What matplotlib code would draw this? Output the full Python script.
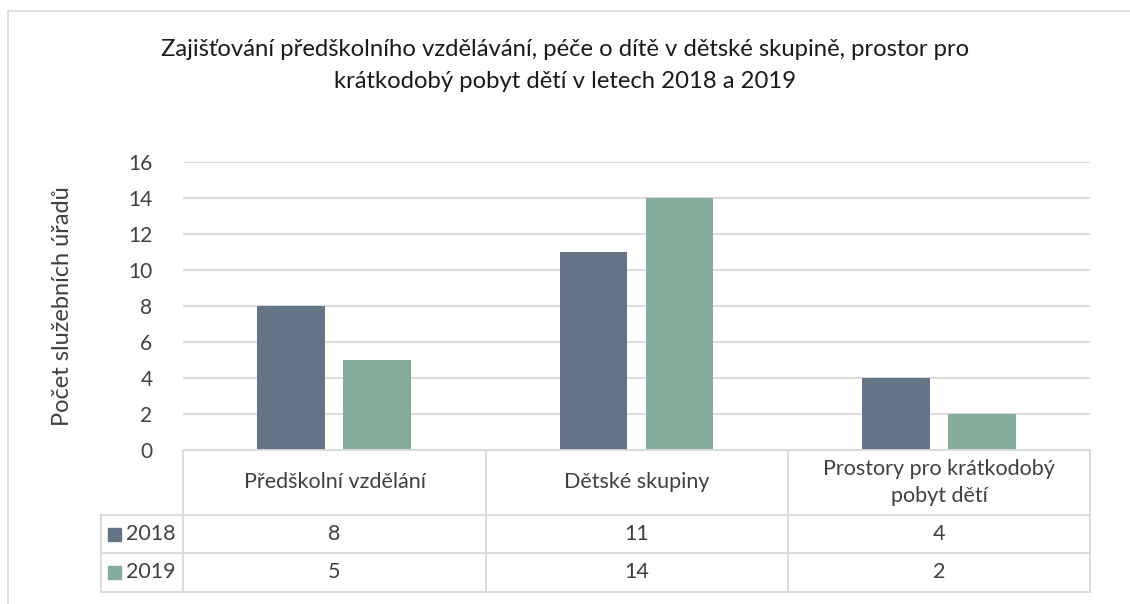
import matplotlib
matplotlib.use("Agg")
import matplotlib.pyplot as plt
from matplotlib.lines import Line2D
import numpy as np

categories = ["Předškolní vzdělání", "Dětské skupiny", "Prostory pro krátkodobý\npobyt dětí"]
series_names = ["2018", "2019"]
values_2018 = [8, 11, 4]
values_2019 = [5, 14, 2]
yticks = [0, 2, 4, 6, 8, 10, 12, 14, 16]

title = "Zajišťování předškolního vzdělávání, péče o dítě v dětské skupině, prostor pro\nkrátkodobý pobyt dětí v letech 2018 a 2019"
ylabel = "Počet služebních úřadů"

colors = ["#657587", "#84AD9C"]
grid_color = "#D9D9D9"
text_color = "#404040"

W, H = 1130, 604
plt.rcParams['font.family'] = ['Lato', 'DejaVu Sans']
fig = plt.figure(figsize=(W / 100, H / 100), dpi=100)

def fx(px):
    return px / W

def fy(py):
    return 1 - py / H

# border
fig.add_artist(Line2D([fx(8), fx(1130)], [fy(11), fy(11)], color=grid_color, lw=1.2, transform=fig.transFigure))
fig.add_artist(Line2D([fx(8), fx(8)], [fy(11), fy(604)], color=grid_color, lw=1.2, transform=fig.transFigure))

left, right, top, bottom = 183, 1090, 162, 450
ax = fig.add_axes([fx(left), fy(bottom), fx(right - left), (bottom - top) / H])

x = np.arange(len(categories))
bw = 0.224
off = 0.142
ax.bar(x - off, values_2018, bw, color=colors[0], zorder=3)
ax.bar(x + off, values_2019, bw, color=colors[1], zorder=3)
ax.set_xlim(-0.5, len(categories) - 0.5)
ax.set_ylim(0, 16)
ax.set_yticks(yticks)
ax.set_yticklabels([str(t) for t in yticks], fontsize=15, color=text_color)
ax.tick_params(axis='y', length=0, pad=22)
ax.set_xticks([])
for s in ax.spines.values():
    s.set_visible(False)
ax.grid(axis='y', color=grid_color, lw=1.3, zorder=0)
ax.set_ylabel(ylabel, fontsize=17, color=text_color, labelpad=40)

fig.text(0.5, fy(65.5), title, ha='center', va='center', fontsize=17.2, color='#1a1a1a', linespacing=1.62)

# data table
col_edges = [183, 486, 788, 1090]
row_edges = [450, 515, 553, 592]
tbl_left = 101
lw = 1.3
fig.add_artist(Line2D([fx(183), fx(1090)], [fy(450), fy(450)], color=grid_color, lw=lw))
for r in row_edges[1:]:
    fig.add_artist(Line2D([fx(tbl_left), fx(1090)], [fy(r), fy(r)], color=grid_color, lw=lw))
for c in col_edges:
    fig.add_artist(Line2D([fx(c), fx(c)], [fy(450), fy(592)], color=grid_color, lw=lw))
fig.add_artist(Line2D([fx(tbl_left), fx(tbl_left)], [fy(515), fy(592)], color=grid_color, lw=lw))

fs_tbl = 15.5
for i, cat in enumerate(categories):
    cx = (col_edges[i] + col_edges[i + 1]) / 2
    fig.text(fx(cx), fy((row_edges[0] + row_edges[1]) / 2), cat, ha='center', va='center',
             fontsize=fs_tbl, color=text_color, linespacing=1.45)
    for j, vals in enumerate([values_2018, values_2019]):
        cy = (row_edges[j + 1] + row_edges[j + 2]) / 2
        fig.text(fx(cx), fy(cy), str(vals[i]), ha='center', va='center', fontsize=fs_tbl, color=text_color)

for j, name in enumerate(series_names):
    cy = (row_edges[j + 1] + row_edges[j + 2]) / 2
    sq = 13
    fig.add_artist(plt.Rectangle((fx(108), fy(cy + sq / 2)), sq / W, sq / H, color=colors[j], transform=fig.transFigure))
    fig.text(fx(126), fy(cy), name, ha='left', va='center', fontsize=fs_tbl, color=text_color)

fig.savefig("out.png", dpi=100)
